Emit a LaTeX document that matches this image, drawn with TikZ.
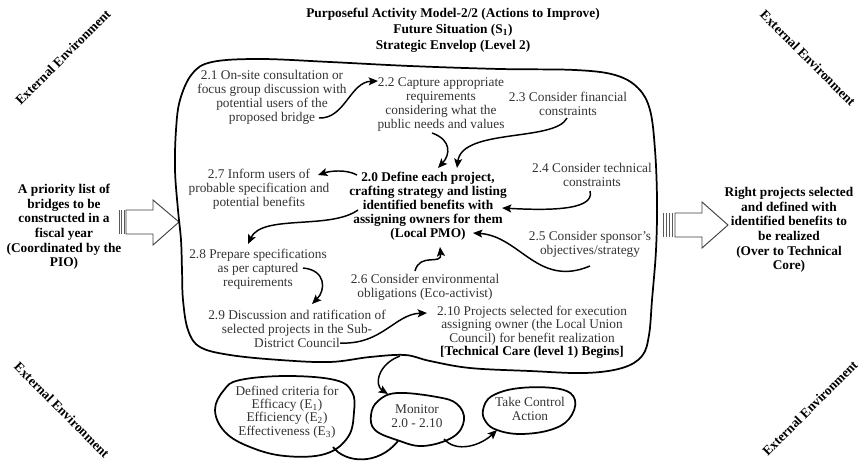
\documentclass[tikz,border=0pt]{standalone}
\usepackage{fontspec}
\setmainfont{Liberation Serif}
\usetikzlibrary{arrows.meta}
\begin{document}
\begin{tikzpicture}[x=0.75pt,y=-0.75pt,
  txt/.style={align=center, font=\fontsize{10}{10.5}\selectfont, text=black!80, inner sep=0pt},
  btxt/.style={align=center, font=\fontsize{10}{10.5}\selectfont\bfseries, text=black, inner sep=0pt},
  env/.style={font=\fontsize{10}{12}\selectfont\bfseries, inner sep=0pt},
  flow/.style={line width=1.1pt, -{Stealth[length=7pt,width=6pt,inset=1.5pt]}},
  outline/.style={line width=1.3pt},
  bigarrow/.style={line width=0.7pt, draw=black!75, fill=white},
  stripe/.style={line width=0.6pt, draw=black!65}
]
\useasboundingbox (0,0) rectangle (862,460);

% heading
\node[btxt, font=\fontsize{10}{12}\selectfont\bfseries] (title) at (453,30)
  {Purposeful Activity Model-2/2 (Actions to Improve)\\
   Future Situation (S\textsubscript{1})\\
   Strategic Envelop (Level 2)};

% environment labels in the corners
\node[env, rotate=45]  (envtl) at (63,57)  {External Environment};
\node[env, rotate=-45] (envtr) at (808,58) {External Environment};
\node[env, rotate=-45] (envbl) at (62,410) {External Environment};
\node[env, rotate=45]  (envbr) at (810,408) {External Environment};

% input and output
\node[btxt, font=\fontsize{10}{11}\selectfont\bfseries] (input) at (64,227)
  {A priority list of\\ bridges to be\\ constructed in a\\ fiscal year\\ (Coordinated by the\\ PIO)};
\node[btxt, font=\fontsize{10}{11}\selectfont\bfseries] (output) at (789,230)
  {Right projects selected\\ and defined with\\ identified benefits to\\ be realized\\ (Over to Technical\\ Core)};

% striped block arrows
\foreach \x in {119,121.5,124} \draw[stripe] (\x,210) -- (\x,234);
\draw[bigarrow] (126,210) -- (153,210) -- (153,200) -- (179,222) -- (153,245) -- (153,234) -- (126,234) -- cycle;
\foreach \x in {663,666,669,672} \draw[stripe] (\x,213) -- (\x,237);
\draw[bigarrow] (675,213) -- (702,213) -- (702,202) -- (728,225) -- (702,248) -- (702,237) -- (675,237) -- cycle;

% strategic envelope
\draw[outline] plot[smooth cycle, tension=0.6] coordinates {
  (192,74) (212,62) (260,59) (330,62) (410,66) (500,69) (575,70) (615,75)
  (638,88) (650,110) (655,150) (657,200) (656,250) (652,300) (649,335)
  (642,356) (622,368) (585,373) (530,371) (470,368) (430,361) (405,355)
  (370,357) (330,362) (280,360) (230,355) (200,347) (188,330) (183,300)
  (182,270) (181,240) (178,210) (175,170) (176,130) (180,100)};

% activities
\node[txt] (a21) at (272,97) {2.1 On-site consultation or\\ focus group discussion with\\ potential users of the\\ proposed bridge};
\node[txt] (a22) at (441,105) {2.2 Capture appropriate\\ requirements\\ considering what the\\ public needs and values};
\node[txt] (a23) at (568,104) {2.3 Consider financial\\ constraints};
\node[btxt] (a20) at (428,206) {2.0 Define each project,\\ crafting strategy and listing\\ identified benefits with\\ assigning owners for them\\ (Local PMO)};
\node[txt] (a27) at (259,189) {2.7 Inform users of\\ probable specification and\\ potential benefits};
\node[txt] (a24) at (592,175) {2.4 Consider technical\\ constraints};
\node[txt] (a25) at (590,244) {2.5 Consider sponsor's\\ objectives/strategy};
\node[txt] (a26) at (425,287) {2.6 Consider environmental\\ obligations (Eco-activist)};
\node[txt] (a28) at (258,269) {2.8 Prepare specifications\\ as per captured\\ requirements};
\node[txt] (a29) at (297,329) {2.9 Discussion and ratification of\\ selected projects in the Sub-\\ District Council};
\node[txt, font=\fontsize{10}{8.8}\selectfont] (a210) at (532,332)
  {2.10 Projects selected for execution\\ assigning owner (the Local Union\\ Council) for benefit realization\\ \textbf{\textcolor{black}{[Technical Care (level 1) Begins]}}};

% end points of the activity links
\coordinate (p21) at (319,118);  \coordinate (p22) at (378,81);
\coordinate (p22b) at (432,133); \coordinate (p20a) at (438,168);
\coordinate (p23) at (567,118);  \coordinate (p20b) at (457,168);
\coordinate (p24) at (590,191);  \coordinate (p20c) at (502,208);
\coordinate (p25) at (590,266);  \coordinate (p20d) at (473,233);
\coordinate (p26) at (415,271);  \coordinate (p20e) at (440,247);
\coordinate (p20f) at (357,175); \coordinate (p27) at (318,175);
\coordinate (p20g) at (358,210); \coordinate (p28) at (248,244);
\coordinate (p28b) at (303,268); \coordinate (p29) at (312,304);
\coordinate (p29b) at (340,343); \coordinate (p210) at (427,313);

\draw[flow] (p21) .. controls (345,119) and (350,82) .. (p22);
\draw[flow] (p22b) .. controls (452,140) and (450,155) .. (p20a);
\draw[flow] (p23) .. controls (555,142) and (462,128) .. (p20b);
\draw[flow] (p24) .. controls (596,212) and (540,210) .. (p20c);
\draw[flow] (p25) .. controls (538,288) and (520,236) .. (p20d);
\draw[flow] (p26) .. controls (420,252) and (442,266) .. (p20e);
\draw[flow] (p20f) .. controls (346,169) and (330,171) .. (p27);
\draw[flow] (p20g) .. controls (330,230) and (262,214) .. (p28);
\draw[flow] (p28b) .. controls (326,270) and (326,290) .. (p29);
\draw[flow] (p29b) .. controls (382,345) and (395,314) .. (p210);

% monitoring and control
\draw[outline] plot[smooth cycle, tension=0.65] coordinates {
  (215,410) (224,390) (240,380) (287,376) (335,380) (352,392) (354,412)
  (348,437) (325,454) (285,456) (250,447) (225,432)};
\node[txt, font=\fontsize{10}{10}\selectfont] (crit) at (287,412)
  {Defined criteria for\\ Efficacy (E\textsubscript{1})\\ Efficiency (E\textsubscript{2})\\ Effectiveness (E\textsubscript{3})};

\draw[outline] plot[smooth cycle, tension=0.65] coordinates {
  (371,415) (378,401) (397,393) (437,397) (457,404) (464,420) (453,437)
  (423,446) (397,440) (375,430)};
\node[txt] (mon) at (417,416) {Monitor\\ 2.0 - 2.10};

\draw[outline] plot[smooth cycle, tension=0.65] coordinates {
  (483,410) (492,396) (520,388) (560,389) (575,400) (569,419) (550,430)
  (520,434) (497,430) (486,422)};
\node[txt] (act) at (530,409) {Take Control\\ Action};

\coordinate (envb) at (400,356);  \coordinate (monin) at (388,394);
\coordinate (critout) at (333,447); \coordinate (monin2) at (398,441);
\coordinate (monout) at (444,439); \coordinate (actin) at (497,430);

\draw[flow] (envb) .. controls (378,364) and (374,385) .. (monin);
\draw[outline] (critout) .. controls (345,463) and (378,466) .. (monin2);
\draw[flow] (monout) .. controls (456,453) and (480,446) .. (actin);
\end{tikzpicture}
\end{document}
